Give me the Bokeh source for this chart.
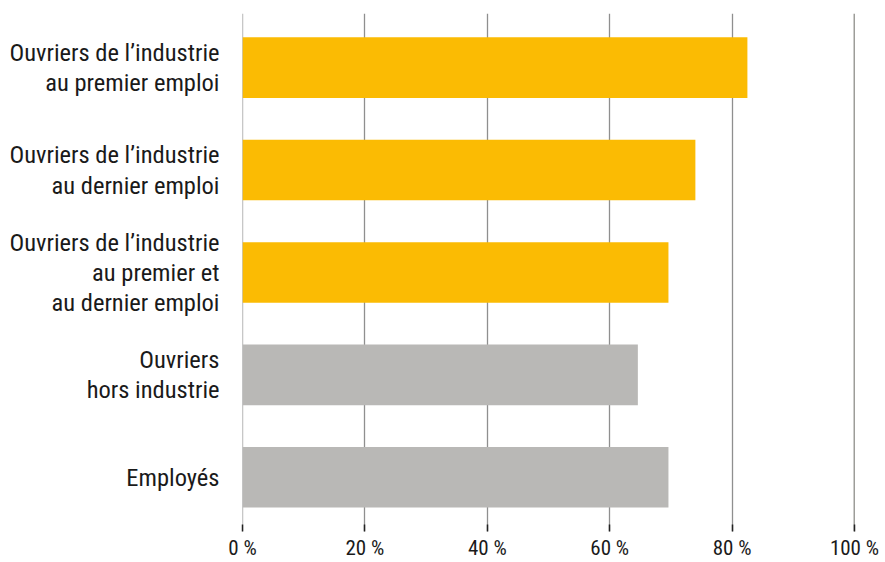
from bokeh.plotting import figure
from bokeh.models import Range1d, FixedTicker, Span
from bokeh.embed import file_html
from bokeh.resources import INLINE

categories = [
    "Ouvriers de l’industrie\nau premier emploi",
    "Ouvriers de l’industrie\nau dernier emploi",
    "Ouvriers de l’industrie\nau premier et\nau dernier emploi",
    "Ouvriers\nhors industrie",
    "Employés",
]
values = [82.5, 74.0, 69.6, 64.6, 69.6]
bar_colors = ["#FBBB03", "#FBBB03", "#FBBB03", "#B9B8B6", "#B9B8B6"]
x_ticks = [0, 20, 40, 60, 80, 100]
x_tick_labels = ["0 %", "20 %", "40 %", "60 %", "80 %", "100 %"]

TXT = "#1a1a1a"
FONT = "Roboto Condensed, Arial Narrow, Liberation Sans"

ys = list(range(len(categories)))

p = figure(width=885, height=562, output_backend="svg", toolbar_location=None,
           x_range=Range1d(0, 100), y_range=Range1d(4.53, -0.529),
           min_border_left=242, min_border_right=31, min_border_top=13,
           min_border_bottom=0)
p.outline_line_color = None
p.background_fill_color = "white"
p.border_fill_color = "white"

p.ygrid.grid_line_color = None
ya = p.yaxis[0]
ya.ticker = FixedTicker(ticks=ys, minor_ticks=[])
ya.major_label_overrides = {y: c for y, c in zip(ys, categories)}
ya.axis_line_color = None
ya.major_tick_line_color = None
ya.major_label_standoff = 17
ya.major_label_text_font = FONT
ya.major_label_text_font_size = "24.5px"
ya.major_label_text_line_height = 1.04
ya.major_label_text_color = TXT

p.xgrid.ticker = FixedTicker(ticks=x_ticks[1:-1])
p.xgrid.grid_line_color = "#8f8f8f"
p.xgrid.grid_line_width = 1.3

xa = p.xaxis[0]
xa.ticker = FixedTicker(ticks=x_ticks, minor_ticks=[])
xa.major_label_overrides = {t: l for t, l in zip(x_ticks, x_tick_labels)}
xa.axis_line_color = None
xa.major_tick_in = 7
xa.major_tick_out = 0
xa.major_tick_line_color = "#222222"
xa.major_tick_line_width = 1.5
xa.major_label_standoff = 4
xa.major_label_text_font = FONT
xa.major_label_text_font_size = "21px"
xa.major_label_text_color = TXT

p.add_layout(Span(location=x_ticks[0], dimension="height", line_color="#8f8f8f",
                  line_width=1.3, level="underlay"))
p.add_layout(Span(location=x_ticks[-1], dimension="height", line_color="#3c3c34",
                  line_width=1.5, level="underlay"))

p.hbar(y=ys, left=0, right=values, height=0.592, color=bar_colors, line_color=None)

open("out.html", "w").write(file_html(p, INLINE))
